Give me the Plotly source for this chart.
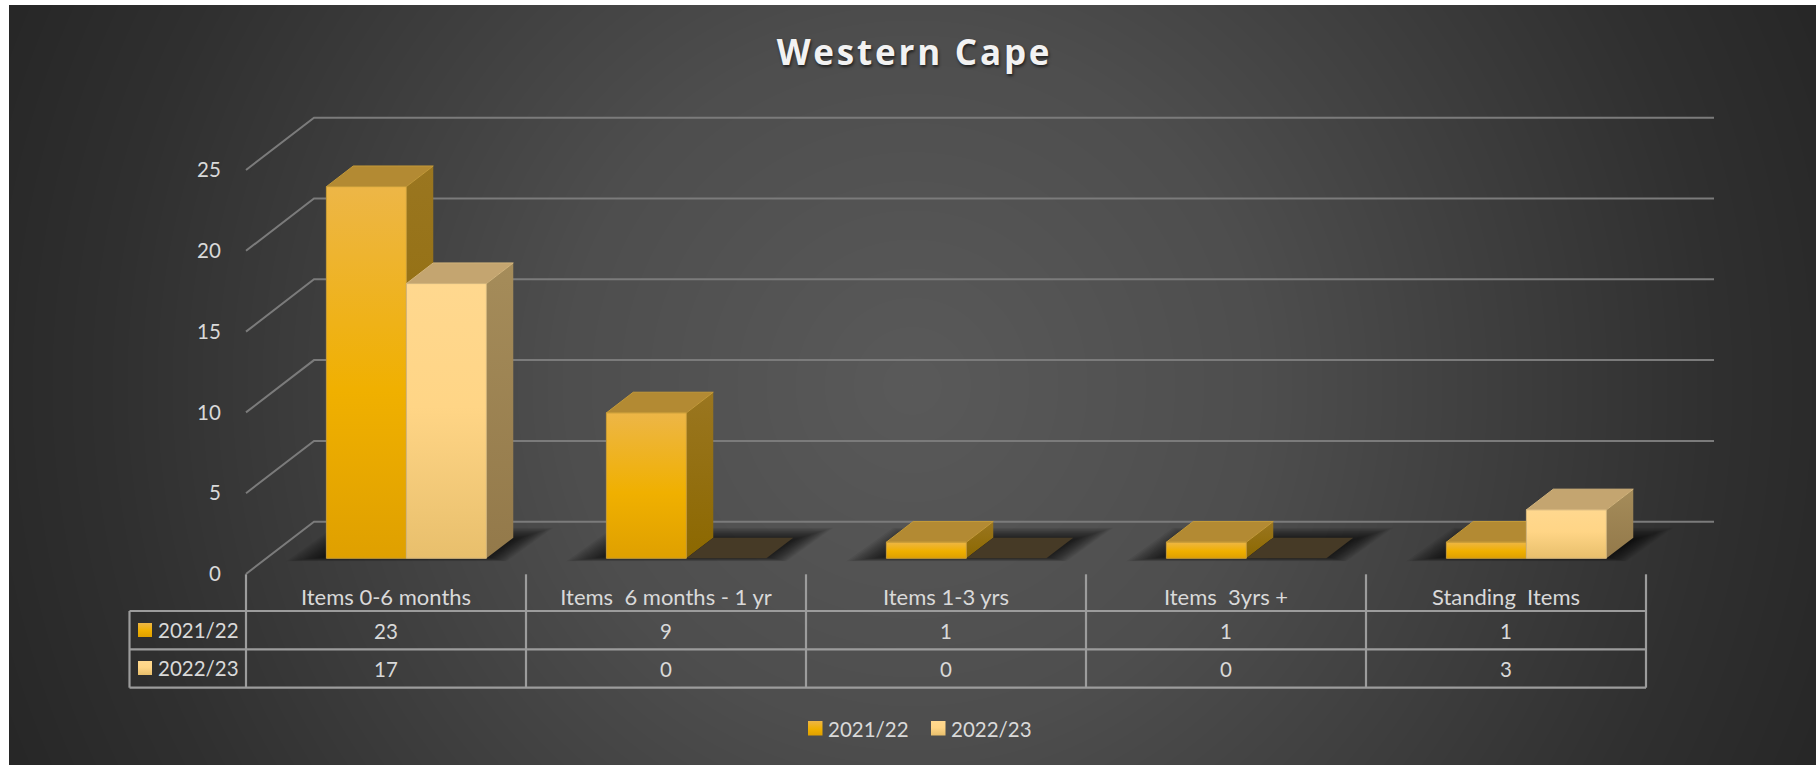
import base64, struct, zlib
import numpy as np
import plotly.graph_objects as go

# ---------- data ----------
categories = ["Items 0-6 months", "Items  6 months - 1 yr", "Items 1-3 yrs", "Items  3yrs +", "Standing  Items"]
series_names = ["2021/22", "2022/23"]
values_2122 = [23, 9, 1, 1, 1]
values_2223 = [17, 0, 0, 0, 3]
y_ticks = [0, 5, 10, 15, 20, 25]
title_text = "Western Cape"

# ---------- layout constants ----------
W, H = 1816, 765
PX0, PX1 = 246.0, 1646.0      # front plane of the category axis
PY0, PY25 = 574.0, 170.0      # front plane of the value axis
NCAT = len(categories)
PXC = (PX1 - PX0) / NCAT
PXV = (PY0 - PY25) / 25
DX = 68.0 / PXC               # full floor depth in category units
DV = 52.3 / PXV               # full floor depth in value units
D_FRONT, D_BACK = 0.30, 0.695 # bars occupy this depth band
BARW = 80.0 / PXC

def X(px): return (px - PX0) / PXC
def Y(py): return (PY0 - py) / PXV
def proj(c, d, v): return c + d * DX, v + d * DV

GRID = "#7b7b7b"
TABLE = "#9c9c9c"
TEXT = "#d9d9d9"
FONT = "Lato"
FS = 22
FS_NUM = 20.5

STYLE = [
    dict(front=[[0, "#dfa000"], [0.45, "#f0b000"], [1, "#edb647"]],
         side=[[0, "#8c6800"], [1, "#9a7620"]], top="#b38a33", edge="#c49a38", zero="#463a26"),
    dict(front=[[0, "#e8bf6c"], [0.55, "#ffd586"], [1, "#ffd88f"]],
         side=[[0, "#93794a"], [1, "#a58c5a"]], top="#c4a570", edge="#d2b47c", zero="#463a26"),
]

fig = go.Figure()

def poly(xs, ys, fill=None, grad=None, edge=None, lw=1):
    kw = dict(x=list(xs) + [xs[0]], y=list(ys) + [ys[0]], mode="lines", fill="toself",
              xaxis="x2", yaxis="y2", hoverinfo="skip", showlegend=False,
              line=dict(color=edge or "rgba(0,0,0,0)", width=lw if edge else 0))
    if grad:
        kw["fillgradient"] = dict(type="vertical", colorscale=grad)
    else:
        kw["fillcolor"] = fill
    fig.add_trace(go.Scatter(**kw))

# real bars carry the front faces
for k, vals in enumerate([values_2122, values_2223]):
    fig.add_trace(go.Bar(
        x=[i + 0.5 + D_FRONT * DX for i in range(NCAT)], y=vals, base=D_FRONT * DV,
        name=series_names[k], marker=dict(color=STYLE[k]["front"][1][1], line=dict(width=0)),
        showlegend=False, hoverinfo="skip"))

# gridlines: side wall + back wall
gx, gy = [], []
for v in y_ticks:
    x1, y1 = proj(0, 1, v)
    x2, y2 = proj(NCAT, 1, v)
    gx += [0, x1, x2, None]
    gy += [v, y1, y2, None]
fig.add_trace(go.Scatter(x=gx, y=gy, mode="lines", line=dict(color=GRID, width=2),
                         xaxis="x2", yaxis="y2", hoverinfo="skip", showlegend=False))

# soft floor shadow under every group
LAYERS = 20
for i in range(NCAT):
    left = i + 0.5 - BARW
    right = i + 0.5 + BARW
    xa, ya = proj(left, D_FRONT, 0)
    xb, yb = proj(right, D_FRONT, 0)
    xc, yc = proj(right, D_BACK, 0)
    xd, yd = proj(left, D_BACK, 0)
    for n in range(LAYERS):
        t = 1 - n / (LAYERS - 1)
        ex = (52 * t - 12) / PXC
        et = (16 * t - 6) / PXV
        eb = (6 * t - 3) / PXV
        poly([xa - ex, xb + ex * 0.5, xc + ex, xd - ex * 0.5],
             [ya - eb, yb - eb, yc + et, yd + et],
             fill="rgba(0,0,0,0.06)")

# 3-D boxes
for i in range(NCAT):
    c0 = i + 0.5 - BARW
    for k, vals in enumerate([values_2122, values_2223]):
        v = vals[i]
        st = STYLE[k]
        a = c0 + k * BARW
        b = a + BARW
        if v == 0:
            pts = [proj(a, D_FRONT, 0), proj(b, D_FRONT, 0), proj(b, D_BACK, 0), proj(a, D_BACK, 0)]
            poly([p[0] for p in pts], [p[1] for p in pts], fill=st["zero"])
            continue
        # side
        pts = [proj(b, D_FRONT, 0), proj(b, D_BACK, 0), proj(b, D_BACK, v), proj(b, D_FRONT, v)]
        poly([p[0] for p in pts], [p[1] for p in pts], grad=st["side"])
        # top
        pts = [proj(a, D_FRONT, v), proj(b, D_FRONT, v), proj(b, D_BACK, v), proj(a, D_BACK, v)]
        poly([p[0] for p in pts], [p[1] for p in pts], fill=st["top"], edge=st["edge"])
        # front
        pts = [proj(a, D_FRONT, 0), proj(b, D_FRONT, 0), proj(b, D_FRONT, v), proj(a, D_FRONT, v)]
        poly([p[0] for p in pts], [p[1] for p in pts], grad=st["front"], edge=st["edge"])

# data table lines
YH, YR1, YR2, YR3 = 574.3, 611.0, 649.3, 687.7
XT = 129.5
tx, ty = [], []
for r in (YR1, YR2, YR3):
    tx += [X(XT), NCAT, None]
    ty += [Y(r), Y(r), None]
for c in range(NCAT + 1):
    tx += [c, c, None]
    ty += [Y(YH), Y(YR3), None]
tx += [X(XT), X(XT), None]
ty += [Y(YR1), Y(YR3), None]
fig.add_trace(go.Scatter(x=tx, y=ty, mode="lines", line=dict(color=TABLE, width=2.2),
                         xaxis="x2", yaxis="y2", hoverinfo="skip", showlegend=False))

def label(x, py, text, anchor="center", size=FS_NUM):
    fig.add_annotation(x=x, y=Y(py), xref="x2", yref="y2", text=text, showarrow=False,
                       xanchor=anchor, yanchor="middle", align=anchor,
                       font=dict(family=FONT, size=size, color=TEXT))

for i in range(NCAT):
    label(i + 0.5, 630.7, str(values_2122[i]))
    label(i + 0.5, 668.7, str(values_2223[i]))

def swatch(px, py, size, st):
    xs = [X(px), X(px + size), X(px + size), X(px)]
    ys = [Y(py + size), Y(py + size), Y(py), Y(py)]
    poly(xs, ys, grad=st["front"])

# series keys inside the table
for k, cy in enumerate((630.0, 668.0)):
    swatch(138, cy - 7, 14, STYLE[k])
    label(X(155.5), cy, series_names[k], anchor="left")

# bottom legend
for k, (sx, tx0) in enumerate(((808, 825.5), (931, 948.5))):
    swatch(sx, 721, 14.5, STYLE[k])
    label(X(tx0), 728.5, series_names[k], anchor="left")

# ---------- background image ----------
def gradient_png():
    bw, bh = W - 9, H - 5
    yy, xx = np.mgrid[0:bh, 0:bw]
    d = np.hypot(xx + 9 - 912, yy + 5 - 385) / 1000.0
    g = np.interp(d, [0, 0.35, 0.8, 1.0], [0x5a, 0x4e, 0x30, 0x26]).astype(np.uint8)
    raw = b"".join(b"\x00" + g[r].tobytes() for r in range(bh))
    def chunk(t, c):
        return struct.pack(">I", len(c)) + t + c + struct.pack(">I", zlib.crc32(t + c) & 0xffffffff)
    png = b"\x89PNG\r\n\x1a\n" + chunk(b"IHDR", struct.pack(">IIBBBBB", bw, bh, 8, 0, 0, 0, 0)) \
        + chunk(b"IDAT", zlib.compress(raw, 9)) + chunk(b"IEND", b"")
    return "data:image/png;base64," + base64.b64encode(png).decode()

fig.update_layout(
    width=W, height=H, margin=dict(l=0, r=0, t=0, b=0, autoexpand=False),
    paper_bgcolor="white", plot_bgcolor="rgba(0,0,0,0)",
    barmode="group", bargap=1 - 2 * BARW, bargroupgap=0, showlegend=False,
    title=dict(text="<b>%s</b>" % title_text, x=914.5 / W, xanchor="center",
               y=1 - 52.5 / H, yanchor="middle", yref="paper",
               font=dict(family="Open Sans", size=35, color="#f2f2f2", shadow="1px 2px 3px rgba(0,0,0,0.6)")),
    xaxis=dict(domain=[PX0 / W, PX1 / W], range=[0, NCAT], tickmode="array",
               tickvals=[i + 0.5 for i in range(NCAT)], ticktext=categories,
               showgrid=False, zeroline=False, showline=False, ticks="outside", ticklen=4,
               tickcolor="rgba(0,0,0,0)", tickfont=dict(family=FONT, size=FS, color=TEXT)),
    yaxis=dict(domain=[(H - PY0) / H, (H - PY25) / H], range=[0, 25], tickmode="array",
               tickvals=y_ticks, showgrid=False, zeroline=False, showline=False, ticks="outside",
               ticklen=20, tickcolor="rgba(0,0,0,0)", tickfont=dict(family=FONT, size=FS_NUM, color=TEXT)),
    xaxis2=dict(domain=[0, 1], range=[X(0), X(W)], visible=False, anchor="y2"),
    yaxis2=dict(domain=[0, 1], range=[Y(H), Y(0)], visible=False, anchor="x2"),
    images=[dict(source=gradient_png(), xref="paper", yref="paper", x=9 / W, y=1 - 5 / H,
                 sizex=(W - 9) / W, sizey=(H - 5) / H, xanchor="left", yanchor="top",
                 sizing="stretch", layer="below")],
)

POST = """
document.body.style.margin='0';
document.documentElement.style.overflow='hidden';
document.querySelectorAll('.gtitle').forEach(function(t){t.style.letterSpacing='2.8px';});
"""
fig.write_html("out.html", post_script=POST, config=dict(displayModeBar=False))
